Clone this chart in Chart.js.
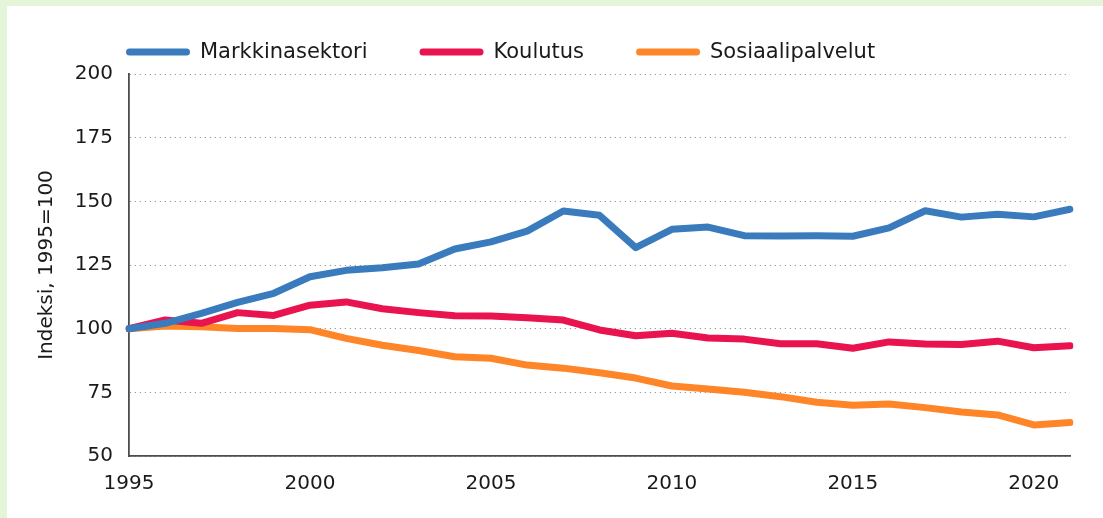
<!DOCTYPE html>
<html lang="fi">
<head>
<meta charset="utf-8">
<title>Indeksi, 1995=100</title>
<script src="https://cdn.jsdelivr.net/npm/chart.js@4/dist/chart.umd.min.js"></script>
<style>
  html, body { margin: 0; padding: 0; }
  body { width: 1103px; height: 518px; background: #e4f5d9; overflow: hidden; position: relative; }
  #panel { position: absolute; left: 7px; top: 6px; width: 1096px; height: 512px; background: #ffffff; }
  #chart { display: block; }
</style>
</head>
<body>
<div id="panel"><canvas id="chart" width="1096" height="512"></canvas></div>
<script>
// Vuodet
const years = [1995, 1996, 1997, 1998, 1999, 2000, 2001, 2002, 2003, 2004, 2005, 2006, 2007,
  2008, 2009, 2010, 2011, 2012, 2013, 2014, 2015, 2016, 2017, 2018, 2019, 2020, 2021];

// Indeksisarjat, 1995 = 100
const markkinasektori = [100, 102.1, 106.0, 110.3, 113.9, 120.4, 122.9, 123.9, 125.4, 131.3, 134.1,
  138.3, 146.2, 144.5, 131.8, 139.0, 139.9, 136.5, 136.4, 136.5, 136.3, 139.6, 146.3, 143.8, 144.9, 143.9, 146.9];
const koulutus = [100, 103.4, 102.1, 106.3, 105.2, 109.2, 110.5, 107.8, 106.3, 105.1, 105.0,
  104.3, 103.4, 99.5, 97.2, 98.2, 96.3, 95.9, 94.1, 94.1, 92.3, 94.8, 94.0, 93.8, 95.1, 92.5, 93.3];
const sosiaalipalvelut = [100, 101.0, 100.8, 100.1, 100.1, 99.6, 96.2, 93.5, 91.4, 89.0, 88.4,
  85.7, 84.5, 82.7, 80.6, 77.5, 76.3, 75.0, 73.3, 71.1, 69.9, 70.4, 69.0, 67.3, 66.1, 62.2, 63.2];

const seriesNames = ['Markkinasektori', 'Koulutus', 'Sosiaalipalvelut'];
const seriesColors = ['#3a7bbd', '#e8134f', '#ff8529'];

// Y-akselin asteikko
const yMin = 50, yMax = 200, yStep = 25;
const xTickEvery = 5;

const FONT = '"DejaVu Sans", sans-serif';
const TEXT = '#1a1a1a';
const AXIS = '#4d4d4d';

// Selite: viivanäyte + nimi, vasemmalle tasattuna piirtoalueen reunaan
const lineLegend = {
  id: 'lineLegend',
  afterDraw(chart) {
    const ctx = chart.ctx;
    const sw = 64, gapText = 10, gapItem = 52;
    let x = chart.chartArea.left - 3;
    const y = 46;
    ctx.save();
    ctx.font = '21px ' + FONT;
    ctx.textBaseline = 'middle';
    chart.data.datasets.forEach(ds => {
      ctx.strokeStyle = ds.borderColor;
      ctx.lineWidth = 7;
      ctx.lineCap = 'round';
      ctx.beginPath();
      ctx.moveTo(x + 3.5, y);
      ctx.lineTo(x + sw - 3.5, y);
      ctx.stroke();
      x += sw + gapText;
      ctx.fillStyle = TEXT;
      ctx.fillText(ds.label, x, y + 1);
      x += ctx.measureText(ds.label).width + gapItem;
    });
    ctx.restore();
  }
};

const mkDataset = (label, data, color) => ({
  label, data,
  borderColor: color,
  backgroundColor: color,
  borderWidth: 7,
  borderCapStyle: 'round',
  borderJoinStyle: 'round',
  pointRadius: 0,
  pointHoverRadius: 0,
  tension: 0,
  fill: false
});

new Chart(document.getElementById('chart'), {
  type: 'line',
  data: {
    labels: years.map(String),
    datasets: [
      mkDataset(seriesNames[0], markkinasektori, seriesColors[0]),
      mkDataset(seriesNames[1], koulutus, seriesColors[1]),
      mkDataset(seriesNames[2], sosiaalipalvelut, seriesColors[2])
    ]
  },
  options: {
    responsive: false,
    animation: false,
    devicePixelRatio: 1,
    layout: { padding: { top: 68, right: 33, left: 0, bottom: 0 } },
    plugins: {
      legend: { display: false },
      tooltip: { enabled: false }
    },
    scales: {
      x: {
        type: 'category',
        offset: false,
        grid: { display: false, drawTicks: false },
        border: { display: true, color: AXIS, width: 1.8 },
        ticks: {
          autoSkip: false,
          maxRotation: 0,
          padding: 16,
          color: TEXT,
          font: { family: FONT, size: 20 },
          callback(value) {
            const yr = years[value];
            return yr % xTickEvery === 0 ? String(yr) : '';
          }
        },
        afterFit(scale) { scale.height = 62; }
      },
      y: {
        min: yMin,
        max: yMax,
        grid: {
          drawTicks: false,
          color: '#7f7f7f',
          lineWidth: 1
        },
        border: { display: true, color: AXIS, width: 1.8, dash: [1, 4] },
        ticks: {
          stepSize: yStep,
          padding: 16,
          color: TEXT,
          font: { family: FONT, size: 20 }
        },
        title: {
          display: true,
          text: 'Indeksi, 1995=100',
          color: TEXT,
          font: { family: FONT, size: 20 },
          padding: { top: 28, bottom: 0 }
        },
        afterFit(scale) { scale.width = 122; }
      }
    }
  },
  plugins: [lineLegend]
});
</script>
</body>
</html>
